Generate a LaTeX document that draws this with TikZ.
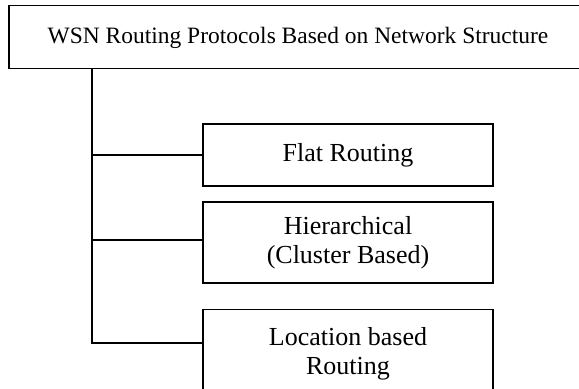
\documentclass[tikz,border=0pt]{standalone}
\usepackage{fontspec}
\setmainfont{Liberation Serif}
\usetikzlibrary{positioning}
\begin{document}
\begin{tikzpicture}[x=0.75pt,y=-0.75pt,
    box/.style={draw,line width=0.9pt,minimum width=217.5pt,align=center,inner sep=0pt,
      font=\fontsize{19.5}{21.75}\selectfont},
    link/.style={line width=0.9pt}]
  \clip (0,0) rectangle (579,389);
  \node[box,minimum width=433.5pt,text height=28.2pt,text depth=19pt,anchor=north,
    font=\fontsize{17.6}{21}\selectfont] (wsn) at (298,5) {WSN Routing Protocols Based on Network Structure};
  \node[box,minimum height=46.5pt] (flat) at (348,155) {Flat Routing};
  \node[box,minimum height=60.75pt] (hier) at (348,242.5) {Hierarchical\\(Cluster Based)};
  \node[box,minimum height=66pt,anchor=north] (loc) at (348,309) {Location based\\Routing};
  %linee
  \coordinate (trunk) at (92,343);
  \draw[link] (wsn.south -| trunk) -- (trunk) -- ([yshift=-25.5pt]loc.north west);
  \draw[link] (flat.west -| trunk) -- (flat.west);
  \draw[link] ([yshift=1.875pt]hier.west -| trunk) -- ([yshift=1.875pt]hier.west);
\end{tikzpicture}
\end{document}
